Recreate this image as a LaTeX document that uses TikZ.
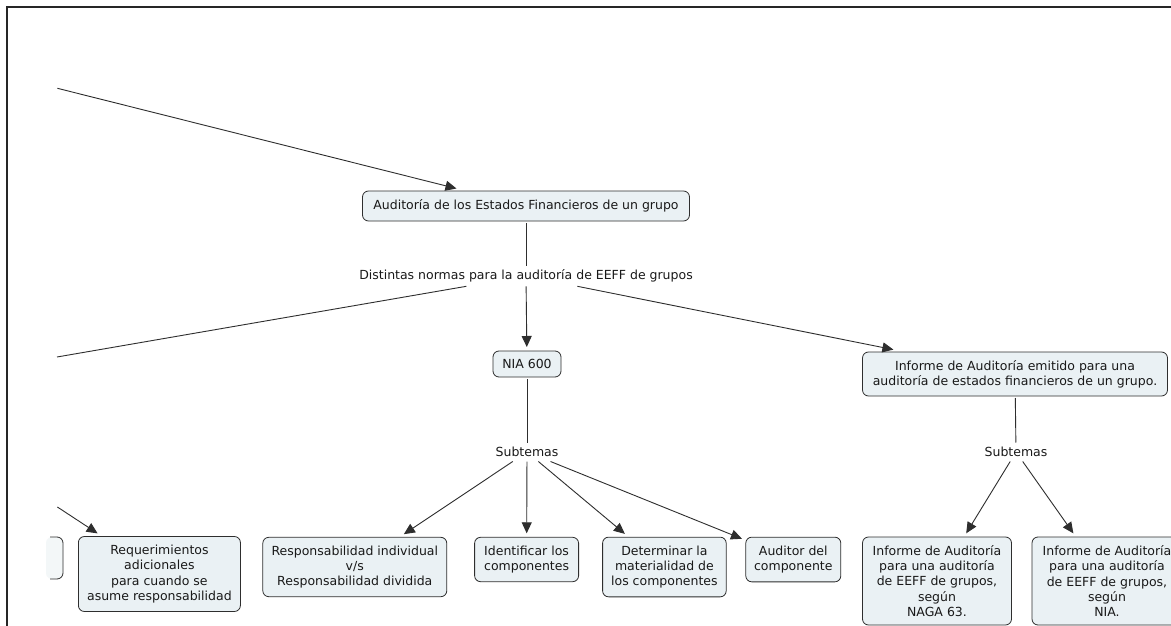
\documentclass[tikz,border=0pt]{standalone}
\usepackage{fontspec}
\setmainfont{DejaVu Sans}
\usetikzlibrary{arrows.meta}
\definecolor{boxfill}{HTML}{EAF1F4}
\definecolor{edgecol}{HTML}{2E2E2E}
\tikzset{
  cbox/.style={draw=edgecol, fill=boxfill, line width=0.8pt, rounded corners=6pt,
    align=center, inner sep=3pt, outer sep=2pt,
    font=\fontsize{12.5}{15.3}\selectfont, text=black!90},
  clabel/.style={align=center, inner sep=4pt, minimum height=19pt, outer sep=0pt,
    font=\fontsize{12.5}{15.3}\selectfont, text=black!90},
  con/.style={draw=edgecol, line width=0.9pt},
  arr/.style={con, -{Triangle[length=11pt,width=10pt]}, shorten >=2pt},
}
\begin{document}
\begin{tikzpicture}[x=1pt,y=-1pt]
\clip (0,0) rectangle (1171,626);
\fill[white] (0,0) rectangle (1171,626);
% frame
\draw[line width=2pt, black!85] (6.5,630) -- (6.5,7.3) -- (1175,7.3);

% nodes
\node[cbox, minimum width=327pt, minimum height=30pt] (main) at (526,206) {Auditoría de los Estados Financieros de un grupo};
\node[clabel] (dist) at (526,276) {Distintas normas para la auditoría de EEFF de grupos};
\node[cbox, minimum width=68pt, minimum height=26pt] (nia) at (527,364) {NIA 600};
\node[cbox, minimum width=305pt, minimum height=44pt] (informe) at (1015,374) {Informe de Auditoría emitido para una\\auditoría de estados financieros de un grupo.};
\node[clabel] (sub1) at (527,452) {Subtemas};
\node[clabel] (sub2) at (1016,452) {Subtemas};
\node[cbox, minimum width=162pt, minimum height=75pt] (req) at (159.4,574) {Requerimientos\\adicionales\\para cuando se\\asume responsabilidad};
\node[cbox, minimum width=184pt, minimum height=59.4pt] (resp) at (354.8,567) {Responsabilidad individual\\v/s\\Responsabilidad dividida};
\node[cbox, minimum width=104pt, minimum height=44.4pt] (ident) at (526.6,559.5) {Identificar los\\componentes};
\node[cbox, minimum width=123.6pt, minimum height=59.7pt] (determ) at (664.4,567) {Determinar la\\materialidad de\\los componentes};
\node[cbox, minimum width=95pt, minimum height=44.7pt] (auditor) at (793.3,559.5) {Auditor del\\componente};
\node[cbox, minimum width=149pt, minimum height=88pt] (naga) at (937,581) {Informe de Auditoría\\para una auditoría\\de EEFF de grupos,\\según\\NAGA 63.};
\node[cbox, minimum width=150pt, minimum height=88pt] (nia2) at (1107,581) {Informe de Auditoría\\para una auditoría\\de EEFF de grupos,\\según\\NIA.};

% partial box at left edge
\fill[boxfill!60, rounded corners=6pt] (46,537) -- (63,537) -- (63,579) -- (46,579) -- cycle;
\draw[draw=edgecol, line width=0.8pt, rounded corners=6pt] (50,537) -- (63,537) -- (63,579) -- (50,579);

% free ends
\coordinate (tl) at (57.4,88.3);
\coordinate (ll) at (57,357);
\coordinate (rl) at (57.4,507);

% connectors
\draw[arr] (tl) -- (main);
\draw[con] (main) -- (dist);
\draw[con] (dist) -- (ll);
\draw[arr] (dist) -- (nia);
\draw[arr] (dist) -- (informe);
\draw[con] (nia) -- (sub1);
\draw[arr] (sub1) -- (resp);
\draw[arr] (sub1) -- (ident);
\draw[arr] (sub1) -- (determ);
\draw[arr] (sub1) -- (auditor);
\draw[con] (informe) -- (sub2);
\draw[arr] (sub2) -- (naga);
\draw[arr] (sub2) -- (nia2);
\draw[arr] (rl) -- (req);
\end{tikzpicture}
\end{document}
